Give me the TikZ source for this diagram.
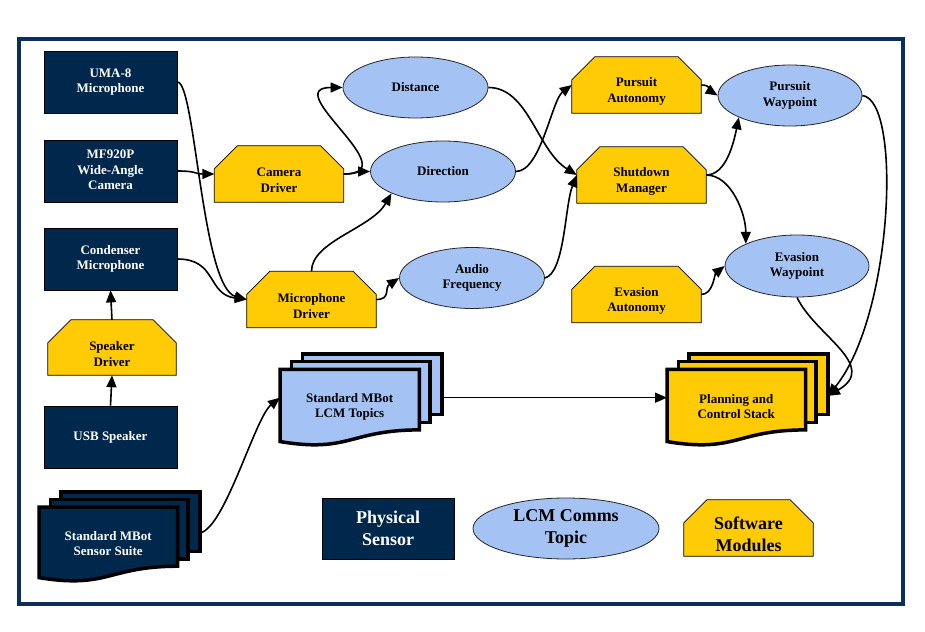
\documentclass[tikz,border=0pt]{standalone}
\usepackage{fontspec}
\setmainfont{Liberation Serif}
\usetikzlibrary{arrows.meta,calc,shapes.geometric}
\definecolor{navy}{HTML}{00274C}
\definecolor{maize}{HTML}{FFCB05}
\definecolor{lblue}{HTML}{A4C2F4}
\definecolor{framec}{HTML}{0B2F5C}
% software module: chamfered top corners
\newcommand\smod[4][]{%
  \node[modbox,#1] (#2) at #3 {};
  \draw[modline] (#2.south west) -- (#2.south east) -- ([yshift=-23pt]#2.north east)
     -- ([xshift=-23pt]#2.north east) -- ([xshift=23pt]#2.north west)
     -- ([yshift=-23pt]#2.north west) -- cycle;
  \node[base,#1,minimum width=0pt,minimum height=0pt] at ([yshift=-6.5pt]#2.center) {#4};}
% stack of documents
\newcommand\mdoc[8]{%
  \begin{scope}[shift={(#2,#3)},x=#4pt,y=-#5pt]
    \draw[stackline,fill=#6] (0.138,0) -- (1,0) -- (1,0.666) -- (0.138,0.666) -- cycle;
    \draw[stackline,fill=#6] (0.071,0.084) -- (0.926,0.084) -- (0.926,0.752) -- (0.071,0.752) -- cycle;
    \draw[stackline,fill=#6] (0,0.170) -- (0.861,0.170) -- (0.861,0.834)
       .. controls (0.43,0.834) and (0.43,1.09) .. (0,0.962) -- cycle;
    \node[base,text=#7] (#1) at (0.43,0.58) {#8};
    \coordinate (#1-l) at (0,0.48);
    \coordinate (#1-m) at (1,0.48);
    \coordinate (#1-r) at (1,0.46);
  \end{scope}}
\begin{document}
\begin{tikzpicture}[x=1pt,y=-1pt,
  base/.style={font=\bfseries\fontsize{13}{15.5}\selectfont, align=center, inner sep=0pt},
  phys/.style={base, rectangle, draw=black, line width=0.8pt, fill=navy, text=white, minimum width=133pt, minimum height=62pt},
  topic/.style={base, ellipse, draw=black!85, line width=0.8pt, fill=lblue, minimum width=145pt, minimum height=61pt},
  modbox/.style={base, rectangle, minimum width=129pt, minimum height=56pt},
  modline/.style={draw=black, line width=0.8pt, fill=maize},
  stackline/.style={draw=black, line width=3.5pt},
  conn/.style={line width=1.6pt, -{Triangle[length=12pt,width=10pt]}},
  big/.style={font=\bfseries\fontsize{18}{22}\selectfont}
]
\useasboundingbox (0,0) rectangle (925,631);
\fill[white] (0,0) rectangle (925,631);
\draw[framec, line width=4pt] (19,39) rectangle (903,604);

% physical sensors
\node[phys] (uma) at (110.5,82) {UMA-8\\Microphone\rule[-2pt]{0pt}{0pt}};
\node[phys] (cam) at (110.5,171) {MF920P\\Wide-Angle\\Camera\rule[-2pt]{0pt}{0pt}};
\node[phys] (cond) at (110.5,259) {Condenser\\Microphone\rule[-2pt]{0pt}{0pt}};
\smod[minimum width=128pt, minimum height=55pt]{spk}{(112,347.5)}{Speaker\\Driver}
\node[phys] (usb) at (110.5,437) {USB Speaker};

% software modules
\smod{camdrv}{(279,174)}{Camera\\Driver}
\smod{micdrv}{(311.5,299.5)}{Microphone\\Driver}
\smod{pursA}{(636.5,85)}{Pursuit\\Autonomy}
\smod{shut}{(641.5,175)}{Shutdown\\Manager}
\smod{evasA}{(636.5,294.5)}{Evasion\\Autonomy}

% topics
\node[topic] (dist) at (415.5,87.5) {Distance};
\node[topic] (dir) at (443,171.5) {Direction};
\node[topic] (audio) at (472,278) {Audio\\Frequency};
\node[topic, minimum width=144pt] (pursW) at (790,95.5) {Pursuit\\Waypoint};
\node[topic, minimum width=144pt, minimum height=62pt] (evasW) at (797,266) {Evasion\\Waypoint};

% stacks
\mdoc{suite}{39}{492}{161}{89}{navy}{white}{Standard MBot\\Sensor Suite}
\mdoc{lcm}{280}{354}{162}{91}{lblue}{black}{Standard MBot\\LCM Topics}
\mdoc{plan}{667}{354}{161}{91}{maize}{black}{Planning and\\Control Stack}

% legend
\node[phys, big, minimum width=132pt, minimum height=61pt] (lphys) at (388,528.5) {Physical\\Sensor};
\node[topic, big, minimum width=186pt, minimum height=61pt] (ltopic) at (566,528.5) {LCM Comms\\Topic};
\smod[big]{lsoft}{(748.5,528)}{Software\\Modules}

% connectors
\draw[conn] (uma.east) .. controls +(18,0) and +(-45,-12) .. (micdrv.west);
\draw[conn] (cond.east) .. controls +(40,0) and +(-40,-5) .. (micdrv.west);
\draw[conn] (cam.east) .. controls +(20,0) and +(-20,0) .. (camdrv.west);
\draw[conn] (camdrv.east) .. controls +(65,0) and +(-65,0) .. (dist.west);
\draw[conn] (camdrv.east) .. controls +(12,0) and +(-12,0) .. (dir.west);
\draw[conn] (micdrv.north) .. controls +(0,-30) and +(-20,35) .. (dir.south west);
\draw[conn] (micdrv.east) .. controls +(15,0) and +(-15,10) .. (audio.west);
\draw[conn] (dist.east) .. controls +(40,0) and +(-40,-25) .. (shut.west);
\draw[conn] (dir.east) .. controls +(25,0) and +(-20,15) .. (pursA.west);
\draw[conn] (audio.east) .. controls +(20,-5) and +(-12,30) .. (shut.west);
\draw[conn] (pursA.east) .. controls +(10,0) and +(-8,-5) .. (pursW.west);
\draw[conn] (shut.east) .. controls +(20,0) and +(-5,25) .. (pursW.south west);
\draw[conn] (shut.east) .. controls +(25,0) and +(0,-30) .. (evasW.north west);
\draw[conn] (evasA.east) .. controls +(12,0) and +(-10,8) .. (evasW.west);
\draw[conn] (pursW.east) .. controls +(40,5) and +(65,-80) .. (plan-r);
\draw[conn] (evasW.south) .. controls +(18,38) and +(52,-30) .. (plan-r);
\draw[conn] (lcm-m) -- (plan-l);
\draw[conn] (suite-r) .. controls +(25,-5) and +(-25,20) .. (lcm-l);
\draw[conn] (usb.north) -- (spk.south);
\draw[conn] (spk.north) -- (cond.south);
\end{tikzpicture}
\end{document}
